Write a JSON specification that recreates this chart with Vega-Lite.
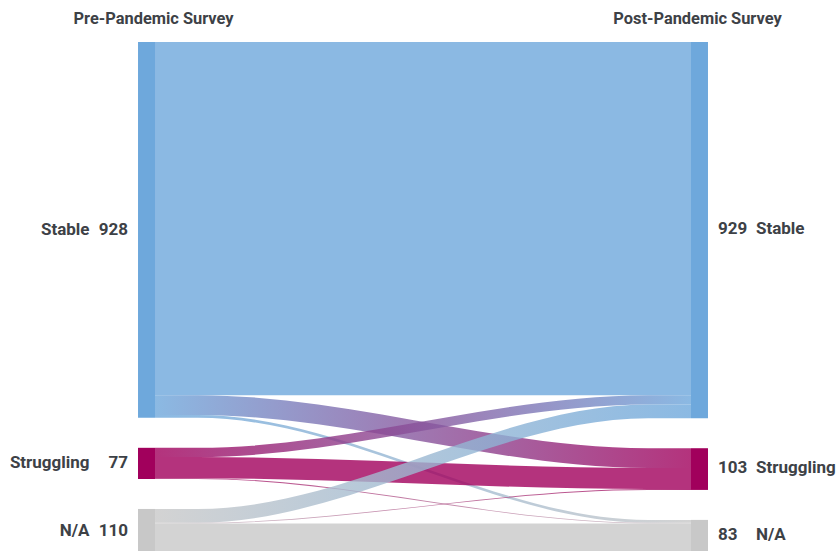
{
  "$schema": "https://vega.github.io/schema/vega-lite/v6.json",
  "width": 837,
  "height": 551,
  "padding": 0,
  "autosize": {"type": "none"},
  "background": "white",
  "config": {"view": {"stroke": null}},
  "datasets": {
    "links": [
      {"source": "Stable", "target": "Stable", "value": 872},
      {"source": "Stable", "target": "Struggling", "value": 49},
      {"source": "Stable", "target": "N/A", "value": 7},
      {"source": "Struggling", "target": "Stable", "value": 23},
      {"source": "Struggling", "target": "Struggling", "value": 52},
      {"source": "Struggling", "target": "N/A", "value": 2},
      {"source": "N/A", "target": "Stable", "value": 34},
      {"source": "N/A", "target": "Struggling", "value": 2},
      {"source": "N/A", "target": "N/A", "value": 74}
    ],
    "nodes": [
      {"survey": "Pre-Pandemic Survey", "side": 0, "name": "Stable", "count": 928},
      {"survey": "Pre-Pandemic Survey", "side": 0, "name": "Struggling", "count": 77},
      {"survey": "Pre-Pandemic Survey", "side": 0, "name": "N/A", "count": 110},
      {"survey": "Post-Pandemic Survey", "side": 1, "name": "Stable", "count": 929},
      {"survey": "Post-Pandemic Survey", "side": 1, "name": "Struggling", "count": 103},
      {"survey": "Post-Pandemic Survey", "side": 1, "name": "N/A", "count": 83}
    ]
  },
  "layer": [
    {
      "data": {"name": "links"},
      "transform": [
        {"calculate": "indexof(['Stable','Struggling','N/A'], datum.source)", "as": "si"},
        {"calculate": "indexof(['Stable','Struggling','N/A'], datum.target)", "as": "ti"},
        {"window": [{"op": "sum", "field": "value", "as": "scum"}], "sort": [{"field": "si"}, {"field": "ti"}], "frame": [null, 0]},
        {"window": [{"op": "sum", "field": "value", "as": "tcum"}], "sort": [{"field": "ti"}, {"field": "si"}], "frame": [null, 0]},
        {"calculate": "datum.scum + 74 * datum.si", "as": "sy1"},
        {"calculate": "datum.sy1 - datum.value", "as": "sy0"},
        {"calculate": "datum.tcum + 74 * datum.ti", "as": "ty1"},
        {"calculate": "datum.ty1 - datum.value", "as": "ty0"},
        {"calculate": "datum.source + '>' + datum.target", "as": "link"},
        {"fold": ["sy0", "sy1", "ty0", "ty1"], "as": ["pt", "pv"]},
        {"calculate": "datum.pt == 'sy0' ? 0 : datum.pt == 'sy1' ? 0.08 : datum.pt == 'ty0' ? 0.92 : 1", "as": "px"},
        {"calculate": "(datum.pt == 'sy0' || datum.pt == 'sy1') ? datum.sy0 : datum.ty0", "as": "top"},
        {"calculate": "(datum.pt == 'sy0' || datum.pt == 'sy1') ? datum.sy1 : datum.ty1", "as": "bot"}
      ],
      "encoding": {
        "x": {"field": "px", "type": "quantitative", "scale": {"domain": [-0.2892, 1.2724], "nice": false, "zero": false}, "axis": null},
        "y": {"field": "top", "type": "quantitative", "scale": {"domain": [-103.7, 1256.8], "reverse": true, "nice": false, "zero": false}, "axis": null},
        "y2": {"field": "bot"}
      },
      "layer": [
        {"transform": [{"filter": "datum.link == 'Stable>Stable'"}],
         "mark": {"type": "area", "orient": "vertical", "interpolate": "monotone", "opacity": 1, "fillOpacity": 0.8, "fill": "#6ea8dc"}},
        {"transform": [{"filter": "datum.link == 'Stable>Struggling'"}],
         "mark": {"type": "area", "orient": "vertical", "interpolate": "monotone", "opacity": 1, "fillOpacity": 0.8,
           "fill": {"gradient": "linear", "x1": 0, "y1": 0, "x2": 1, "y2": 0, "stops": [{"offset": 0, "color": "#6ea8dc"}, {"offset": 1, "color": "#a1005c"}]}}},
        {"transform": [{"filter": "datum.link == 'Stable>N/A'"}],
         "mark": {"type": "area", "orient": "vertical", "interpolate": "monotone", "opacity": 1, "fillOpacity": 0.8,
           "fill": {"gradient": "linear", "x1": 0, "y1": 0, "x2": 1, "y2": 0, "stops": [{"offset": 0, "color": "#6ea8dc"}, {"offset": 1, "color": "#c8c8c8"}]}}},
        {"transform": [{"filter": "datum.link == 'Struggling>Stable'"}],
         "mark": {"type": "area", "orient": "vertical", "interpolate": "monotone", "opacity": 1, "fillOpacity": 0.8,
           "fill": {"gradient": "linear", "x1": 0, "y1": 0, "x2": 1, "y2": 0, "stops": [{"offset": 0, "color": "#a1005c"}, {"offset": 1, "color": "#6ea8dc"}]}}},
        {"transform": [{"filter": "datum.link == 'Struggling>Struggling'"}],
         "mark": {"type": "area", "orient": "vertical", "interpolate": "monotone", "opacity": 1, "fillOpacity": 0.8, "fill": "#a1005c"}},
        {"transform": [{"filter": "datum.link == 'Struggling>N/A'"}],
         "mark": {"type": "area", "orient": "vertical", "interpolate": "monotone", "opacity": 1, "fillOpacity": 0.8,
           "fill": {"gradient": "linear", "x1": 0, "y1": 0, "x2": 1, "y2": 0, "stops": [{"offset": 0, "color": "#a1005c"}, {"offset": 1, "color": "#c8c8c8"}]}}},
        {"transform": [{"filter": "datum.link == 'N/A>Stable'"}],
         "mark": {"type": "area", "orient": "vertical", "interpolate": "monotone", "opacity": 1, "fillOpacity": 0.8,
           "fill": {"gradient": "linear", "x1": 0, "y1": 0, "x2": 1, "y2": 0, "stops": [{"offset": 0, "color": "#c8c8c8"}, {"offset": 1, "color": "#6ea8dc"}]}}},
        {"transform": [{"filter": "datum.link == 'N/A>Struggling'"}],
         "mark": {"type": "area", "orient": "vertical", "interpolate": "monotone", "opacity": 1, "fillOpacity": 0.8,
           "fill": {"gradient": "linear", "x1": 0, "y1": 0, "x2": 1, "y2": 0, "stops": [{"offset": 0, "color": "#c8c8c8"}, {"offset": 1, "color": "#a1005c"}]}}},
        {"transform": [{"filter": "datum.link == 'N/A>N/A'"}],
         "mark": {"type": "area", "orient": "vertical", "interpolate": "monotone", "opacity": 1, "fillOpacity": 0.8, "fill": "#c8c8c8"}}
      ]
    },
    {
      "data": {"name": "nodes"},
      "transform": [
        {"calculate": "indexof(['Stable','Struggling','N/A'], datum.name)", "as": "idx"},
        {"window": [{"op": "sum", "field": "count", "as": "cum"}], "groupby": ["side"], "sort": [{"field": "idx"}], "frame": [null, 0]},
        {"calculate": "datum.cum + 74 * datum.idx", "as": "ny1"},
        {"calculate": "datum.ny1 - datum.count", "as": "ny0"},
        {"calculate": "(datum.ny0 + datum.ny1) / 2", "as": "nmid"},
        {"calculate": "datum.side == 0 ? -0.0317 : 1", "as": "nx0"},
        {"calculate": "datum.side == 0 ? 0 : 1.0317", "as": "nx1"},
        {"calculate": "(datum.nx0 + datum.nx1) / 2", "as": "ncx"}
      ],
      "layer": [
        {
          "mark": {"type": "rect"},
          "encoding": {
            "x": {"field": "nx0", "type": "quantitative", "scale": {"domain": [-0.2892, 1.2724], "nice": false, "zero": false}, "axis": null},
            "x2": {"field": "nx1"},
            "y": {"field": "ny0", "type": "quantitative", "scale": {"domain": [-103.7, 1256.8], "reverse": true, "nice": false, "zero": false}, "axis": null},
            "y2": {"field": "ny1"},
            "color": {"field": "name", "type": "nominal", "scale": {"domain": ["Stable", "Struggling", "N/A"], "range": ["#6ea8dc", "#a1005c", "#c8c8c8"]}, "legend": null}
          }
        },
        {
          "transform": [{"filter": "datum.side == 0"}],
          "mark": {"type": "text", "align": "right", "baseline": "middle", "dx": -48.5, "font": "Roboto", "fontWeight": "bold", "fontSize": 17, "color": "#3d4146"},
          "encoding": {
            "x": {"field": "nx0", "type": "quantitative", "scale": {"domain": [-0.2892, 1.2724], "nice": false, "zero": false}, "axis": null},
            "y": {"field": "nmid", "type": "quantitative", "scale": {"domain": [-103.7, 1256.8], "reverse": true, "nice": false, "zero": false}, "axis": null},
            "text": {"field": "name", "type": "nominal"}
          }
        },
        {
          "transform": [{"filter": "datum.side == 0"}],
          "mark": {"type": "text", "align": "right", "baseline": "middle", "dx": -10, "font": "Roboto", "fontWeight": "bold", "fontSize": 17, "color": "#3d4146"},
          "encoding": {
            "x": {"field": "nx0", "type": "quantitative", "scale": {"domain": [-0.2892, 1.2724], "nice": false, "zero": false}, "axis": null},
            "y": {"field": "nmid", "type": "quantitative", "scale": {"domain": [-103.7, 1256.8], "reverse": true, "nice": false, "zero": false}, "axis": null},
            "text": {"field": "count", "type": "nominal"}
          }
        },
        {
          "transform": [{"filter": "datum.side == 1"}],
          "mark": {"type": "text", "align": "left", "baseline": "middle", "dx": 10, "dy": -1.5, "font": "Roboto", "fontWeight": "bold", "fontSize": 17, "color": "#3d4146"},
          "encoding": {
            "x": {"field": "nx1", "type": "quantitative", "scale": {"domain": [-0.2892, 1.2724], "nice": false, "zero": false}, "axis": null},
            "y": {"field": "nmid", "type": "quantitative", "scale": {"domain": [-103.7, 1256.8], "reverse": true, "nice": false, "zero": false}, "axis": null},
            "text": {"field": "count", "type": "nominal"}
          }
        },
        {
          "transform": [{"filter": "datum.side == 1"}],
          "mark": {"type": "text", "align": "left", "baseline": "middle", "dx": 48, "dy": -1.5, "font": "Roboto", "fontWeight": "bold", "fontSize": 17, "color": "#3d4146"},
          "encoding": {
            "x": {"field": "nx1", "type": "quantitative", "scale": {"domain": [-0.2892, 1.2724], "nice": false, "zero": false}, "axis": null},
            "y": {"field": "nmid", "type": "quantitative", "scale": {"domain": [-103.7, 1256.8], "reverse": true, "nice": false, "zero": false}, "axis": null},
            "text": {"field": "name", "type": "nominal"}
          }
        },
        {
          "transform": [{"filter": "datum.side == 0 && datum.idx == 0"}],
          "mark": {"type": "text", "align": "center", "baseline": "middle", "dx": 7, "font": "Roboto", "fontWeight": "bold", "fontSize": 16.4, "color": "#3d4146"},
          "encoding": {
            "x": {"field": "ncx", "type": "quantitative", "scale": {"domain": [-0.2892, 1.2724], "nice": false, "zero": false}, "axis": null},
            "y": {"datum": -57, "type": "quantitative", "scale": {"domain": [-103.7, 1256.8], "reverse": true, "nice": false, "zero": false}, "axis": null},
            "text": {"field": "survey", "type": "nominal"}
          }
        },
        {
          "transform": [{"filter": "datum.side == 1 && datum.idx == 0"}],
          "mark": {"type": "text", "align": "center", "baseline": "middle", "dx": -2, "font": "Roboto", "fontWeight": "bold", "fontSize": 16.4, "color": "#3d4146"},
          "encoding": {
            "x": {"field": "ncx", "type": "quantitative", "scale": {"domain": [-0.2892, 1.2724], "nice": false, "zero": false}, "axis": null},
            "y": {"datum": -57, "type": "quantitative", "scale": {"domain": [-103.7, 1256.8], "reverse": true, "nice": false, "zero": false}, "axis": null},
            "text": {"field": "survey", "type": "nominal"}
          }
        }
      ]
    }
  ]
}
